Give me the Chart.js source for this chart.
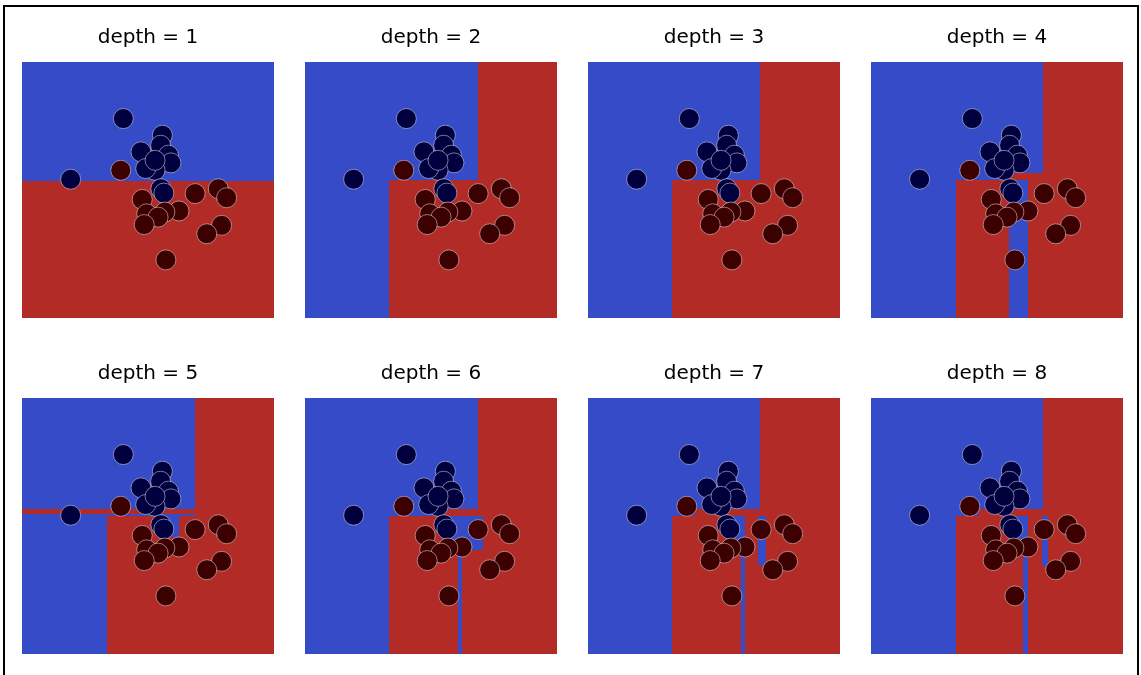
<!DOCTYPE html>
<html>
<head>
<meta charset="utf-8">
<script src="https://cdn.jsdelivr.net/npm/chart.js@4.4.0/dist/chart.umd.min.js"></script>
<style>
  html, body { margin: 0; padding: 0; background: #fff; width: 1141px; height: 675px; overflow: hidden; }
  #frame { position: absolute; left: 3px; top: 5px; width: 1132px; height: 720px; border: 2px solid #000; }
  .panel { position: absolute; }
</style>
</head>
<body>
<div id="frame"></div>
<script>
// sample points (same in every panel)
const blueX = [4.02, 5.57, 5.50, 4.72, 5.81, 5.91, 5.28, 4.91, 5.28, 1.93, 5.51, 5.63];
const blueY = [7.79, 7.14, 6.75, 6.49, 6.36, 6.06, 5.77, 5.84, 6.16, 5.42, 5.05, 4.88];
const redX = [3.92, 4.77, 6.87, 7.79, 8.12, 6.23, 5.67, 4.95, 5.40, 4.85, 7.92, 7.33, 5.71];
const redY = [5.77, 4.63, 4.86, 5.05, 4.70, 4.18, 4.14, 4.07, 3.94, 3.65, 3.62, 3.29, 2.27];

const depths = [1, 2, 3, 4, 5, 6, 7, 8];

// blue leaf regions per depth as [x0, x1, y0, y1]; everything else is red
const blueLeaves = [
  [[0, 10, 5.37, 10]],
  [[0, 3.35, 0, 10], [0, 6.85, 5.38, 10]],
  [[0, 3.35, 0, 10], [0, 6.84, 5.38, 10]],
  [[0, 3.36, 0, 10], [0, 6.84, 5.66, 10], [3.36, 5.48, 5.38, 5.66], [5.48, 6.22, 0, 5.38]],
  [[0, 6.86, 5.66, 10], [0, 6.86, 5.38, 5.48], [0, 3.36, 0, 5.38], [5.48, 6.22, 4.57, 5.38]],
  [[0, 3.35, 0, 10], [0, 6.88, 5.66, 10], [3.35, 5.45, 5.38, 5.66], [5.48, 7.08, 4.05, 5.38], [6.08, 6.24, 0, 4.05]],
  [[0, 3.35, 0, 10], [0, 6.84, 5.66, 10], [3.35, 4.25, 5.38, 5.66], [5.50, 6.23, 4.44, 5.38], [6.06, 6.23, 0, 4.44], [6.76, 7.05, 3.47, 5.38]],
  [[0, 3.36, 0, 10], [0, 6.84, 5.66, 10], [3.36, 4.25, 5.38, 5.66], [5.52, 6.24, 4.50, 5.38], [6.05, 6.22, 0, 4.50], [6.77, 7.04, 3.45, 5.38]]
];

const BLUE_FILL = '#354bc7';
const RED_FILL = '#b32b27';

function regionPlugin(rects) {
  return {
    id: 'regions',
    beforeDatasetsDraw(chart) {
      const { ctx, chartArea: a, scales: { x, y } } = chart;
      ctx.save();
      ctx.fillStyle = RED_FILL;
      ctx.fillRect(a.left, a.top, a.width, a.height);
      ctx.fillStyle = BLUE_FILL;
      for (const [x0, x1, y0, y1] of rects) {
        const l = Math.round(x.getPixelForValue(x0));
        const r = Math.round(x.getPixelForValue(x1));
        const t = Math.round(y.getPixelForValue(y1));
        const b = Math.round(y.getPixelForValue(y0));
        ctx.fillRect(l, t, r - l, b - t);
      }
      ctx.restore();
    }
  };
}

const pts = (xs, ys) => xs.map((v, i) => ({ x: v, y: ys[i] }));

depths.forEach((d, i) => {
  const col = i % 4, row = Math.floor(i / 4);
  const canvas = document.createElement('canvas');
  canvas.className = 'panel';
  canvas.width = 252;
  canvas.height = 308;
  canvas.style.left = (22 + 283 * col) + 'px';
  canvas.style.top = (10 + 335.5 * row) + 'px';
  canvas.style.width = '252px';
  canvas.style.height = '308px';
  document.body.appendChild(canvas);

  new Chart(canvas, {
    type: 'scatter',
    data: {
      datasets: [
        {
          label: 'class 1',
          data: pts(redX, redY),
          pointRadius: 10,
          pointBackgroundColor: '#3d0000',
          pointBorderColor: 'rgba(225,215,215,0.55)',
          pointBorderWidth: 1
        },
        {
          label: 'class 0',
          data: pts(blueX, blueY),
          pointRadius: 10,
          pointBackgroundColor: '#00003e',
          pointBorderColor: 'rgba(215,215,235,0.55)',
          pointBorderWidth: 1
        }
      ]
    },
    options: {
      responsive: false,
      animation: false,
      devicePixelRatio: 1,
      layout: { padding: 0, autoPadding: false },
      plugins: {
        legend: { display: false },
        tooltip: { enabled: false },
        title: {
          display: true,
          text: 'depth = ' + d,
          color: '#000',
          font: { family: 'DejaVu Sans', size: 20, weight: 'normal' },
          padding: { top: 16, bottom: 12 }
        }
      },
      scales: {
        x: { type: 'linear', min: 0, max: 10, display: false },
        y: { type: 'linear', min: 0, max: 10, display: false }
      }
    },
    plugins: [regionPlugin(blueLeaves[i])]
  });
});
</script>
</body>
</html>
